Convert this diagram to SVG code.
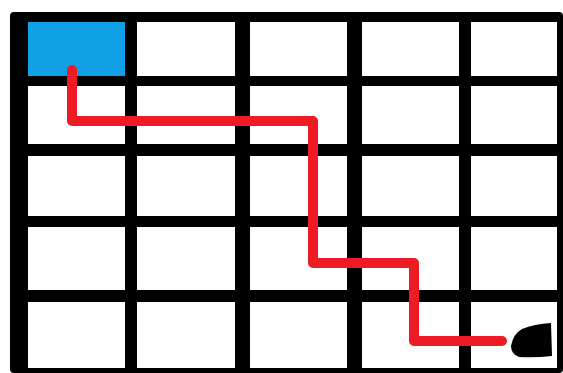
<svg xmlns="http://www.w3.org/2000/svg" width="563" height="373" viewBox="0 0 563 373">
<style>
.cell{fill:#ffffff}
.path{fill:none;stroke:#ed1c24;stroke-width:10;stroke-linejoin:round;stroke-linecap:round}
</style>
<rect width="563" height="373" fill="#ffffff"/>
<g id="grid">
<rect x="10" y="12" width="553" height="361" rx="4" fill="#000000"/>
<g id="row1">
<rect class="cell" x="28" y="22" width="97" height="54" fill="#00a2e8" style="fill:#0fa0e6"/>
<rect class="cell" x="137" y="22" width="98" height="54"/>
<rect class="cell" x="250" y="22" width="97" height="54"/>
<rect class="cell" x="362" y="22" width="97" height="54"/>
<rect class="cell" x="471" y="22" width="86" height="54"/>
</g>
<g id="row2">
<rect class="cell" x="28" y="86" width="97" height="58"/>
<rect class="cell" x="137" y="86" width="98" height="58"/>
<rect class="cell" x="250" y="86" width="97" height="58"/>
<rect class="cell" x="362" y="86" width="97" height="58"/>
<rect class="cell" x="471" y="86" width="86" height="58"/>
</g>
<g id="row3">
<rect class="cell" x="28" y="156" width="97" height="60"/>
<rect class="cell" x="137" y="156" width="98" height="60"/>
<rect class="cell" x="250" y="156" width="97" height="60"/>
<rect class="cell" x="362" y="156" width="97" height="60"/>
<rect class="cell" x="471" y="156" width="86" height="60"/>
</g>
<g id="row4">
<rect class="cell" x="28" y="227" width="97" height="63"/>
<rect class="cell" x="137" y="227" width="98" height="63"/>
<rect class="cell" x="250" y="227" width="97" height="63"/>
<rect class="cell" x="362" y="227" width="97" height="63"/>
<rect class="cell" x="471" y="227" width="86" height="63"/>
</g>
<g id="row5">
<rect class="cell" x="28" y="302" width="97" height="66"/>
<rect class="cell" x="137" y="302" width="98" height="66"/>
<rect class="cell" x="250" y="302" width="97" height="66"/>
<rect class="cell" x="362" y="302" width="97" height="66"/>
<rect class="cell" x="471" y="302" width="86" height="66"/>
</g>
</g>
<g id="connectors">
<path class="path" d="M72,70 V121 H313 V263 H414 V341 H502"/>
</g>
<g id="goal">
<path d="M511,346 Q513,334 522,329 Q534,324 551,323 L552,356 Q535,358 519,357 Q511,354 511,346 Z" fill="#000000"/>
</g>
</svg>
